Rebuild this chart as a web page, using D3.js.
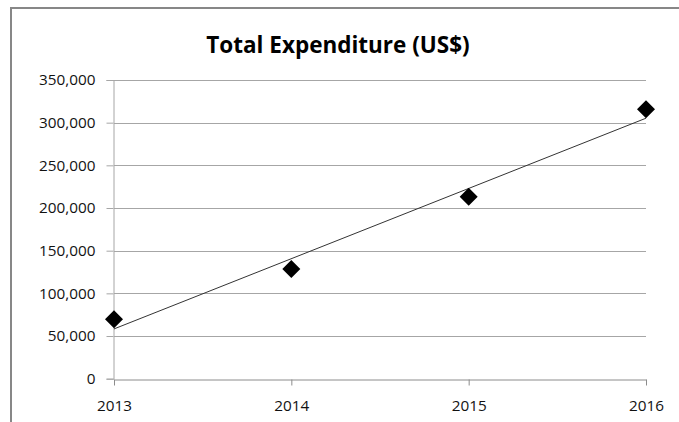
<!DOCTYPE html>
<html>
<head>
<meta charset="utf-8">
<script src="https://cdn.jsdelivr.net/npm/d3@7"></script>
<style>
  body { margin: 0; background: #fff; }
  svg { display: block; }
</style>
</head>
<body>
<div id="chart"></div>
<script>
// data
var years = [2013, 2014, 2015, 2016]
var expenditure = [69600, 128500, 213300, 315700]
var yTicks = [0, 50000, 100000, 150000, 200000, 250000, 300000, 350000]
var title = "Total Expenditure (US$)"

var width = 679, height = 422
var margin = {top: 80, right: 33, bottom: 43, left: 114}

var svg = d3.select("#chart").append("svg")
  .attr("width", width)
  .attr("height", height)

// outer chart frame (right and bottom run off the picture)
svg.append("path")
  .attr("d", "M11,422 L11,8 L679,8")
  .attr("fill", "none")
  .attr("stroke", "#878787")
  .attr("stroke-width", 2)

var x = d3.scaleLinear()
  .domain([d3.min(years), d3.max(years)])
  .range([margin.left, width - margin.right])

var y = d3.scaleLinear()
  .domain([0, 350000])
  .range([height - margin.bottom - 0.3, margin.top])

// gridlines
svg.append("g")
  .selectAll("line")
  .data(yTicks.filter(function(d) { return d > 0 }))
  .enter().append("line")
    .attr("x1", x.range()[0])
    .attr("x2", x.range()[1])
    .attr("y1", function(d) { return Math.round(y(d)) + 0.5 })
    .attr("y2", function(d) { return Math.round(y(d)) + 0.5 })
    .attr("stroke", "#a6a6a6")
    .attr("stroke-width", 1)

// y axis
var yAxis = svg.append("g")
  .attr("transform", "translate(" + (x.range()[0] - 0.5) + ",0)")
  .call(d3.axisLeft(y).tickValues(yTicks).tickSize(7).tickPadding(11)
    .tickFormat(d3.format(",")))
yAxis.selectAll("line").attr("stroke", "#a6a6a6")
yAxis.select(".domain").attr("stroke", "#a6a6a6")

// x axis
var xAxis = svg.append("g")
  .attr("transform", "translate(0," + (Math.round(y(0)) + 0.5) + ")")
  .call(d3.axisBottom(x).tickValues(years).tickSize(6).tickSizeOuter(0).tickPadding(15)
    .tickFormat(d3.format("d")))
xAxis.selectAll("line").attr("stroke", "#8c8c8c")
xAxis.select(".domain").attr("stroke", "#8c8c8c")

svg.selectAll(".tick text")
  .attr("font-family", "'Open Sans', sans-serif")
  .attr("font-size", 15.3)
  .attr("fill", "#111")

// linear trendline (least squares)
var idx = years.map(function(d, i) { return i })
var mx = d3.mean(idx), my = d3.mean(expenditure)
var slope = d3.sum(idx, function(i) { return (i - mx) * (expenditure[i] - my) }) /
            d3.sum(idx, function(i) { return (i - mx) * (i - mx) })
var intercept = my - slope * mx
svg.append("line")
  .attr("x1", x(years[0]))
  .attr("y1", y(intercept))
  .attr("x2", x(years[years.length - 1]))
  .attr("y2", y(intercept + slope * (years.length - 1)))
  .attr("stroke", "#333")
  .attr("stroke-width", 1)

// diamond markers
svg.append("g")
  .selectAll("path")
  .data(years)
  .enter().append("path")
    .attr("transform", function(d, i) { return "translate(" + x(d) + "," + y(expenditure[i]) + ")" })
    .attr("d", "M0,-9 L9,0 L0,9 L-9,0 Z")
    .attr("fill", "#000")

// title
svg.append("text")
  .attr("x", 338)
  .attr("y", 53)
  .attr("text-anchor", "middle")
  .attr("font-family", "'Open Sans', sans-serif")
  .attr("font-weight", "bold")
  .attr("font-size", 22.5)
  .attr("fill", "#000")
  .text(title)
</script>
</body>
</html>
